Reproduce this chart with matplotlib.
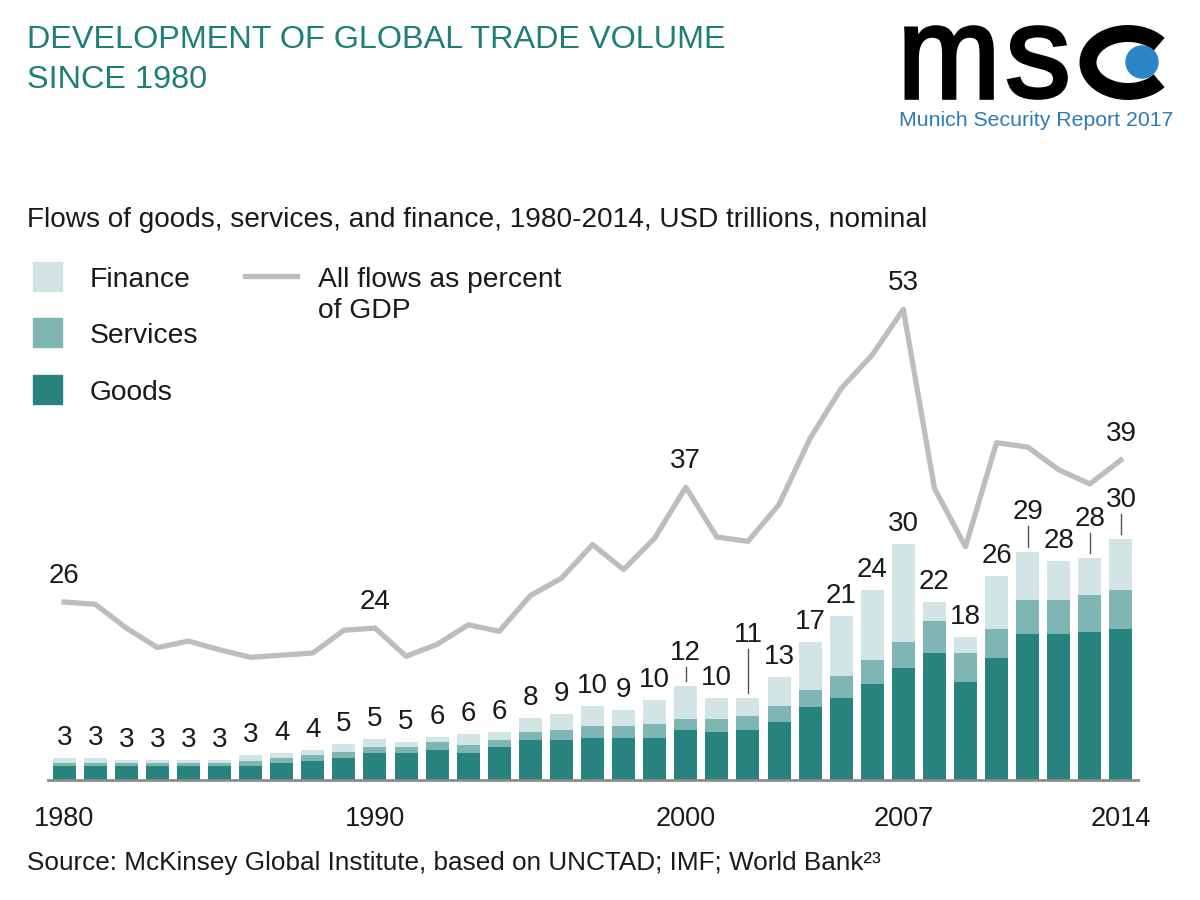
import numpy as np
import matplotlib
matplotlib.use("Agg")
import matplotlib.pyplot as plt
from matplotlib.patches import Rectangle, Ellipse, PathPatch, Arc
from matplotlib.lines import Line2D
from matplotlib.textpath import TextPath
from matplotlib.font_manager import FontProperties
from matplotlib.transforms import Affine2D

plt.rcParams['font.family'] = ['Liberation Sans', 'DejaVu Sans']

# Daten (USD Billionen)
years = list(range(1980, 2015))
goods = [1.75, 1.75, 1.75, 1.75, 1.75, 1.75, 1.75, 2.1, 2.4, 2.7, 3.4, 3.4, 3.8, 3.4, 4.1,
         5.0, 5.0, 5.3, 5.3, 5.3, 6.3, 6.0, 6.3, 7.3, 9.1, 10.3, 12.0, 14.0, 15.9, 12.3,
         15.25, 18.2, 18.2, 18.5, 18.9]
services = [0.35, 0.35, 0.35, 0.35, 0.35, 0.35, 0.65, 0.7, 0.7, 0.8, 0.7, 0.7, 0.9, 1.0, 0.9,
            1.0, 1.3, 1.4, 1.4, 1.7, 1.3, 1.6, 1.7, 2.0, 2.2, 2.7, 3.0, 3.2, 4.0, 3.6,
            3.65, 4.3, 4.3, 4.6, 4.9]
finance = [0.7, 0.7, 0.4, 0.4, 0.4, 0.4, 0.7, 0.6, 0.65, 1.0, 1.0, 0.65, 0.7, 1.35, 1.0,
           1.7, 2.0, 2.6, 2.0, 3.0, 4.1, 2.7, 2.3, 3.6, 6.0, 7.5, 8.8, 12.3, 2.3, 2.0,
           6.6, 6.0, 4.9, 4.7, 6.3]
total_labels = [3, 3, 3, 3, 3, 3, 3, 4, 4, 5, 5, 5, 6, 6, 6, 8, 9, 10, 9, 10, 12, 10, 11, 13,
                17, 21, 24, 30, 22, 18, 26, 29, 28, 28, 30]
pct_gdp = [26.0, 25.8, 23.6, 21.8, 22.4, 21.6, 20.9, 21.1, 21.3, 23.4, 23.6, 21.0, 22.1, 23.9,
           23.3, 26.6, 28.2, 31.3, 29.0, 31.9, 36.6, 32.0, 31.6, 35.0, 41.1, 45.7, 48.8, 53.0,
           36.5, 31.1, 40.7, 40.3, 38.2, 36.9, 39.1]
tick_years = [1980, 1990, 2000, 2007, 2014]
pct_label_years = [1980, 1990, 2000, 2007, 2014]

# Farben
c_goods = '#28827d'
c_serv = '#7fb5b3'
c_fin = '#d2e4e4'
c_line = '#bdbdbd'
c_text = '#1a1a1a'
c_title = '#1d7f76'

# Beschriftungen mit Hilfslinie (Länge in Pixel)
leader = {2000: 14, 2002: 44, 2011: 21, 2013: 20, 2014: 20}

W, H = 1200, 900
fig = plt.figure(figsize=(12, 9), dpi=100)


def fx(px):
    return px / W


def fy(py):
    return 1 - py / H


ax = fig.add_axes([fx(48), 120 / H, 1090 / W, 520 / H])
x = np.arange(len(years))
g = np.array(goods)
s = np.array(services)
f = np.array(finance)
ax.bar(x, g, width=0.74, color=c_goods, zorder=2)
ax.bar(x, s, width=0.74, bottom=g, color=c_serv, zorder=2)
ax.bar(x, f, width=0.74, bottom=g + s, color=c_fin, zorder=2)
ax.set_xlim(-0.52, 34.55)
ax.set_ylim(0, 65)
for sp in ['top', 'right', 'left']:
    ax.spines[sp].set_visible(False)
ax.spines['bottom'].set_color('#8c8c8c')
ax.spines['bottom'].set_linewidth(2)
ax.spines['bottom'].set_zorder(3)
ax.set_yticks([])
ax.set_xticks([years.index(y) for y in tick_years])
ax.set_xticklabels([str(y) for y in tick_years], fontsize=19.5, color=c_text)
ax.tick_params(axis='x', length=0, pad=19)

px = 65 / 520  # Dateneinheiten pro Pixel
tot = g + s + f
for i, yr in enumerate(years):
    if yr in leader:
        y0 = tot[i] + 5 * px
        y1 = y0 + leader[yr] * px
        ax.plot([i, i], [y0, y1], color='#555555', lw=1, zorder=3)
        ax.text(i, y1 + 7 * px, str(total_labels[i]), ha='center', va='baseline',
                fontsize=20, color=c_text)
    else:
        ax.text(i, tot[i] + 13 * px, str(total_labels[i]), ha='center', va='baseline',
                fontsize=20, color=c_text)

ax2 = ax.twinx()
ax2.set_ylim(9.585, 57.555)
ax2.plot(x, pct_gdp, color=c_line, lw=3.8, solid_joinstyle='round', zorder=4)
ax2.axis('off')
pxl = (57.555 - 9.585) / 520
for yr in pct_label_years:
    i = years.index(yr)
    ax2.text(i, pct_gdp[i] + 19 * pxl, str(round(pct_gdp[i])), ha='center', va='baseline',
             fontsize=20, color=c_text)

# Titel
fig.text(fx(27), fy(48), 'DEVELOPMENT OF GLOBAL TRADE VOLUME', fontsize=23.3, color=c_title,
         va='baseline')
fig.text(fx(27), fy(88), 'SINCE 1980', fontsize=23.3, color=c_title, va='baseline')
fig.text(fx(27), fy(227), 'Flows of goods, services, and finance, 1980-2014, USD trillions, nominal',
         fontsize=20.2, color=c_text, va='baseline')

# Legende
for lab, col, yc in [('Finance', c_fin, 276.5), ('Services', c_serv, 332.5), ('Goods', c_goods, 389.5)]:
    fig.patches.append(Rectangle((fx(33), fy(yc + 14.5)), 29 / W, 29 / H, color=col,
                                 transform=fig.transFigure))
    fig.text(fx(90), fy(yc + 10.5), lab, fontsize=20.3, color=c_text, va='baseline')
fig.lines.append(Line2D([fx(245), fx(297)], [fy(276), fy(276)], color=c_line, lw=3.8,
                        transform=fig.transFigure))
fig.text(fx(318), fy(287), 'All flows as percent', fontsize=20.3, color=c_text, va='baseline')
fig.text(fx(318), fy(318), 'of GDP', fontsize=20.3, color=c_text, va='baseline')

# Quelle
fig.text(fx(27), fy(870), 'Source: McKinsey Global Institute, based on UNCTAD; IMF; World Bank²³',
         fontsize=18.8, color=c_text, va='baseline')

# Logo: "m" und "s" aus der Schrift, "c" als offener Ring mit blauem Punkt
logo_font = FontProperties(family='Liberation Sans')
for ch, (bx0, bx1) in [('m', (906, 992)), ('s', (1009, 1066))]:
    tp = TextPath((0, 0), ch, size=100, prop=logo_font)
    bb = tp.get_extents()
    sx = (bx1 - bx0) / bb.width / W
    sy = (98 - 27) / bb.height / H
    tr = Affine2D().translate(-bb.x0, -bb.y0).scale(sx, sy).translate(fx(bx0), fy(98))
    fig.patches.append(PathPatch(tr.transform_path(tp), facecolor='black', edgecolor='black',
                                 lw=2.6, transform=fig.transFigure))
fig.patches.append(Arc((fx(1128), fy(62.5)), 80 / W, 58 / H, theta1=38, theta2=322,
                       color='black', lw=12.2, capstyle='butt', transform=fig.transFigure))
fig.patches.append(Ellipse((fx(1142), fy(62)), 32 / W, 32 / H, color='#2a86c6',
                           transform=fig.transFigure))
fig.text(fx(1173), fy(126), 'Munich Security Report 2017', fontsize=15.3, color='#2b7bb9',
         ha='right', va='baseline')

fig.savefig('out.png', dpi=100)
